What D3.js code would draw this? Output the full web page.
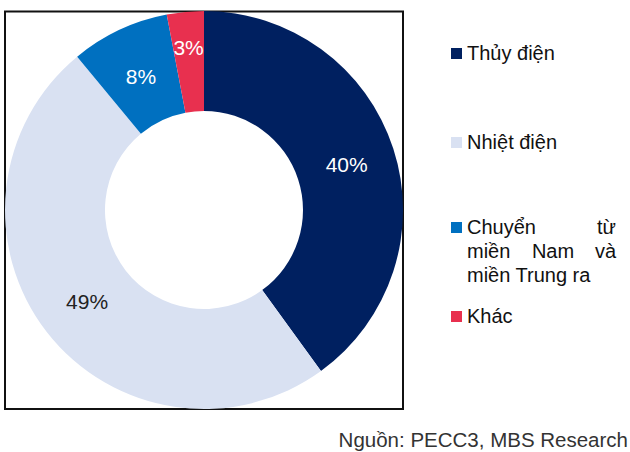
<!DOCTYPE html>
<html>
<head>
<meta charset="utf-8">
<script src="https://cdn.jsdelivr.net/npm/d3@7"></script>
<style>
  body { margin: 0; background: #fff; }
  text { font-family: "Liberation Sans", Arial, sans-serif; }
</style>
</head>
<body>
<svg id="chart" width="630" height="452"></svg>
<script>
// du lieu bieu do
var categories = ["Thủy điện", "Nhiệt điện", "Chuyển từ miền Nam và miền Trung ra", "Khác"];
var values = [40, 49, 8, 3];
var colors = ["#002060", "#D9E1F2", "#0070C0", "#E8304F"];
var labelColors = ["#fff", "#222", "#fff", "#fff"];

var svg = d3.select("#chart");

// khung vien
svg.append("rect")
  .attr("x", 5).attr("y", 11.5)
  .attr("width", 398).attr("height", 397.5)
  .attr("fill", "none")
  .attr("stroke", "#111")
  .attr("stroke-width", 2);

var cx = 204, cy = 210, rOuter = 199, rInner = 99;

var pie = d3.pie().sort(null).value(function (d) { return d; });
var arc = d3.arc().innerRadius(rInner).outerRadius(rOuter);
var arcs = pie(values);

var g = svg.append("g").attr("transform", "translate(" + cx + "," + cy + ")");

g.selectAll("path")
  .data(arcs)
  .enter()
  .append("path")
  .attr("d", arc)
  .attr("fill", function (d, i) { return colors[i]; });

// vi tri nhan (gan giong Excel)
var labelR = [150, 148, 148, 164];
g.selectAll("text.lbl")
  .data(arcs)
  .enter()
  .append("text")
  .attr("class", "lbl")
  .attr("transform", function (d, i) {
    var a = (d.startAngle + d.endAngle) / 2;
    return "translate(" + (Math.sin(a) * labelR[i]) + "," + (-Math.cos(a) * labelR[i] + 1) + ")";
  })
  .attr("text-anchor", "middle")
  .attr("dy", "0.35em")
  .attr("font-size", 21)
  .attr("fill", function (d, i) { return labelColors[i]; })
  .text(function (d, i) { return values[i] + "%"; });

// chu giai
var legX = 451, legTextX = 467, legRight = 616;
var legY = [53, 142, 227, 316];
var leg = svg.append("g");
leg.selectAll("rect")
  .data(categories)
  .enter()
  .append("rect")
  .attr("x", legX)
  .attr("y", function (d, i) { return legY[i] - 5; })
  .attr("width", 11).attr("height", 11)
  .attr("fill", function (d, i) { return colors[i]; });

function legText(x, y, s, anchor) {
  leg.append("text")
    .attr("x", x).attr("y", y)
    .attr("dy", "0.35em")
    .attr("font-size", 20)
    .attr("fill", "#111")
    .attr("text-anchor", anchor || "start")
    .text(s);
}
legText(legTextX, legY[0], "Thủy điện");
legText(legTextX, legY[1], "Nhiệt điện");
// dong can deu
legText(legTextX, legY[2], "Chuyển");
legText(legRight, legY[2], "từ", "end");
legText(legTextX, legY[2] + 24, "miền");
legText(553, legY[2] + 24, "Nam", "middle");
legText(legRight, legY[2] + 24, "và", "end");
legText(legTextX, legY[2] + 48, "miền Trung ra");
legText(legTextX, legY[3], "Khác");

// nguon
svg.append("text")
  .attr("x", 628).attr("y", 440)
  .attr("dy", "0.35em")
  .attr("text-anchor", "end")
  .attr("font-size", 20.5)
  .attr("fill", "#333")
  .text("Nguồn: PECC3, MBS Research");
</script>
</body>
</html>
